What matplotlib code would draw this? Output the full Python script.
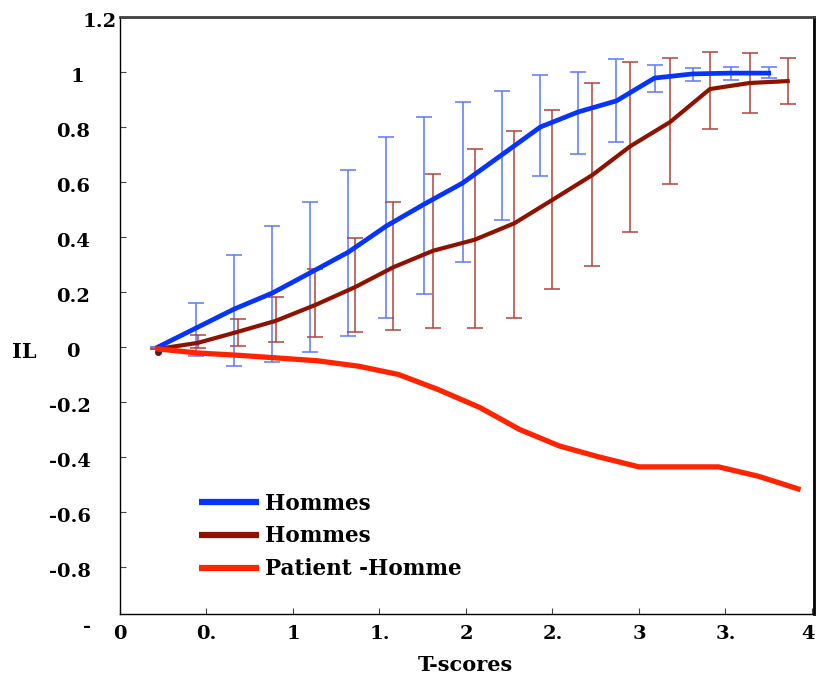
import matplotlib as mpl
mpl.use("Agg")
import matplotlib.pyplot as plt
import numpy as np
from matplotlib.transforms import ScaledTranslation

plt.rcParams.update({
    "font.family": "DejaVu Serif",
    "font.weight": "bold",
})

# T-score positions of each series (three different grids)
x_blue = [0.22, 0.44, 0.66, 0.88, 1.10, 1.32, 1.54, 1.76, 1.98, 2.21, 2.43, 2.65, 2.87, 3.09, 3.31, 3.53, 3.75]
x_red = [0.22, 0.45, 0.68, 0.90, 1.13, 1.36, 1.58, 1.81, 2.05, 2.28, 2.50, 2.73, 2.95, 3.18, 3.41, 3.64, 3.86]
x_pat = [0.22, 0.45, 0.68, 0.91, 1.14, 1.38, 1.61, 1.84, 2.08, 2.31, 2.54, 2.77, 3.00, 3.23, 3.46, 3.69, 3.92]

# Hommes (blue): mean, bar bottom, bar top
il_blue = [0.0, 0.069, 0.138, 0.196, 0.27, 0.345, 0.44, 0.52, 0.596, 0.70, 0.80, 0.855, 0.895, 0.978, 0.993, 0.996, 0.996]
lo_blue = [0.0, -0.033, -0.07, -0.055, -0.018, 0.04, 0.105, 0.193, 0.31, 0.46, 0.62, 0.70, 0.745, 0.927, 0.967, 0.971, 0.978]
hi_blue = [0.0, 0.16, 0.335, 0.44, 0.527, 0.644, 0.764, 0.836, 0.89, 0.93, 0.99, 1.0, 1.047, 1.025, 1.015, 1.018, 1.018]

# Hommes (dark red)
il_red = [-0.007, 0.015, 0.055, 0.095, 0.153, 0.218, 0.29, 0.35, 0.39, 0.45, 0.535, 0.625, 0.73, 0.818, 0.938, 0.96, 0.967]
lo_red = [-0.007, -0.004, 0.004, 0.018, 0.036, 0.055, 0.062, 0.069, 0.069, 0.105, 0.21, 0.295, 0.418, 0.593, 0.793, 0.85, 0.884]
hi_red = [-0.007, 0.044, 0.10, 0.18, 0.284, 0.396, 0.527, 0.63, 0.72, 0.785, 0.86, 0.96, 1.036, 1.05, 1.073, 1.07, 1.05]

# Patient -Homme
il_pat = [-0.007, -0.022, -0.03, -0.04, -0.05, -0.07, -0.10, -0.155, -0.22, -0.30, -0.36, -0.40, -0.436, -0.436, -0.436, -0.47, -0.516]

series_labels = ["Hommes", "Hommes", "Patient -Homme"]
yticks = [1.2, 1.0, 0.8, 0.6, 0.4, 0.2, 0.0, -0.2, -0.4, -0.6, -0.8, -1.0]
ytick_labels = ["1.2", "1", "0.8", "0.6", "0.4", "0.2", "0", "-0.2", "-0.4", "-0.6", "-0.8", "-"]
xticks = [0, 0.5, 1, 1.5, 2, 2.5, 3, 3.5, 4]
xtick_labels = ["0", "0.", "1", "1.", "2", "2.", "3", "3.", "4"]

BLUE = "#0533ff"
DRED = "#8e1200"
ORANGE = "#ff2400"

W, H = 817, 677
fig = plt.figure(figsize=(W / 100, H / 100), dpi=100)
ax = fig.add_axes([120 / W, 1 - 614 / H, 694 / W, 597 / H])

yb = np.array(il_blue)
ax.errorbar(x_blue, yb, yerr=[yb - np.array(lo_blue), np.array(hi_blue) - yb],
            fmt="none", ecolor="#5a78ff", elinewidth=1.1, capsize=5.5, capthick=1.1, zorder=2)
yr = np.array(il_red)
ax.errorbar(x_red, yr, yerr=[yr - np.array(lo_red), np.array(hi_red) - yr],
            fmt="none", ecolor="#b0443a", elinewidth=1.1, capsize=5.5, capthick=1.1, zorder=2)

l1, = ax.plot(x_blue, il_blue, color=BLUE, lw=3.4, zorder=4, solid_joinstyle="round")
l2, = ax.plot(x_red, il_red, color=DRED, lw=3.0, zorder=3, solid_joinstyle="round")
ax.plot(x_red[0], il_red[0] - 0.01, "o", color="#5a1a10", ms=4, zorder=3)
l3, = ax.plot(x_pat, il_pat, color=ORANGE, lw=3.8, zorder=5, solid_joinstyle="round")

ax.set_xlim(0, 4.012)
ax.set_ylim(-0.971, 1.2)

ax.set_xticks(xticks)
ax.set_xticklabels(xtick_labels, fontsize=14)
ax.tick_params(axis="x", direction="in", length=4, width=0.8, color="#444444", pad=8)
# last label sits at the figure edge; nudge it inside
last = ax.get_xticklabels()[-1]
last.set_transform(last.get_transform() + ScaledTranslation(-4 / 100, 0, fig.dpi_scale_trans))
ax.set_yticks(yticks[:-1])
ax.set_yticklabels([])
ax.tick_params(axis="y", direction="in", length=4, width=0.8, color="#444444")

# y tick labels placed by hand (as in the original)
ytr = ax.get_yaxis_transform()
ax_w = 694.0
for v, lab in zip(yticks, ytick_labels):
    if lab == "1.2":
        cx = 100
    elif lab == "1":
        cx = 77
    elif lab == "-":
        cx = 87
    elif lab.startswith("-"):
        cx = 70
    else:
        cx = 73
    ax.text((cx - 120) / ax_w, v - 0.02, lab, transform=ytr, ha="center", va="center",
            fontsize=14, fontweight="bold", clip_on=False)

ax.text((24 - 120) / ax_w, -0.02, "IL", transform=ytr, ha="center", va="center",
        fontsize=15, fontweight="bold", clip_on=False)
fig.text(465 / W, 1 - 665 / H, "T-scores", ha="center", va="center", fontsize=15, fontweight="bold")

for side in ["left", "bottom"]:
    ax.spines[side].set_linewidth(1.0)
    ax.spines[side].set_color("black")
ax.spines["top"].set_linewidth(2.0)
ax.spines["top"].set_color("#404040")
ax.spines["right"].set_linewidth(2.0)
ax.spines["right"].set_color("black")

leg = ax.legend([l1, l2, l3], series_labels, loc="upper left",
                bbox_to_anchor=(70 / ax_w, 1 - (484 - 17) / 597.0),
                frameon=False, handlelength=2.8, handletextpad=0.3, labelspacing=0.5,
                borderaxespad=0, prop={"weight": "bold", "size": 15.5})
for line in leg.get_lines():
    line.set_linewidth(4.5)
    line.set_solid_capstyle("butt")

fig.savefig("out.png", dpi=100, facecolor="white")
